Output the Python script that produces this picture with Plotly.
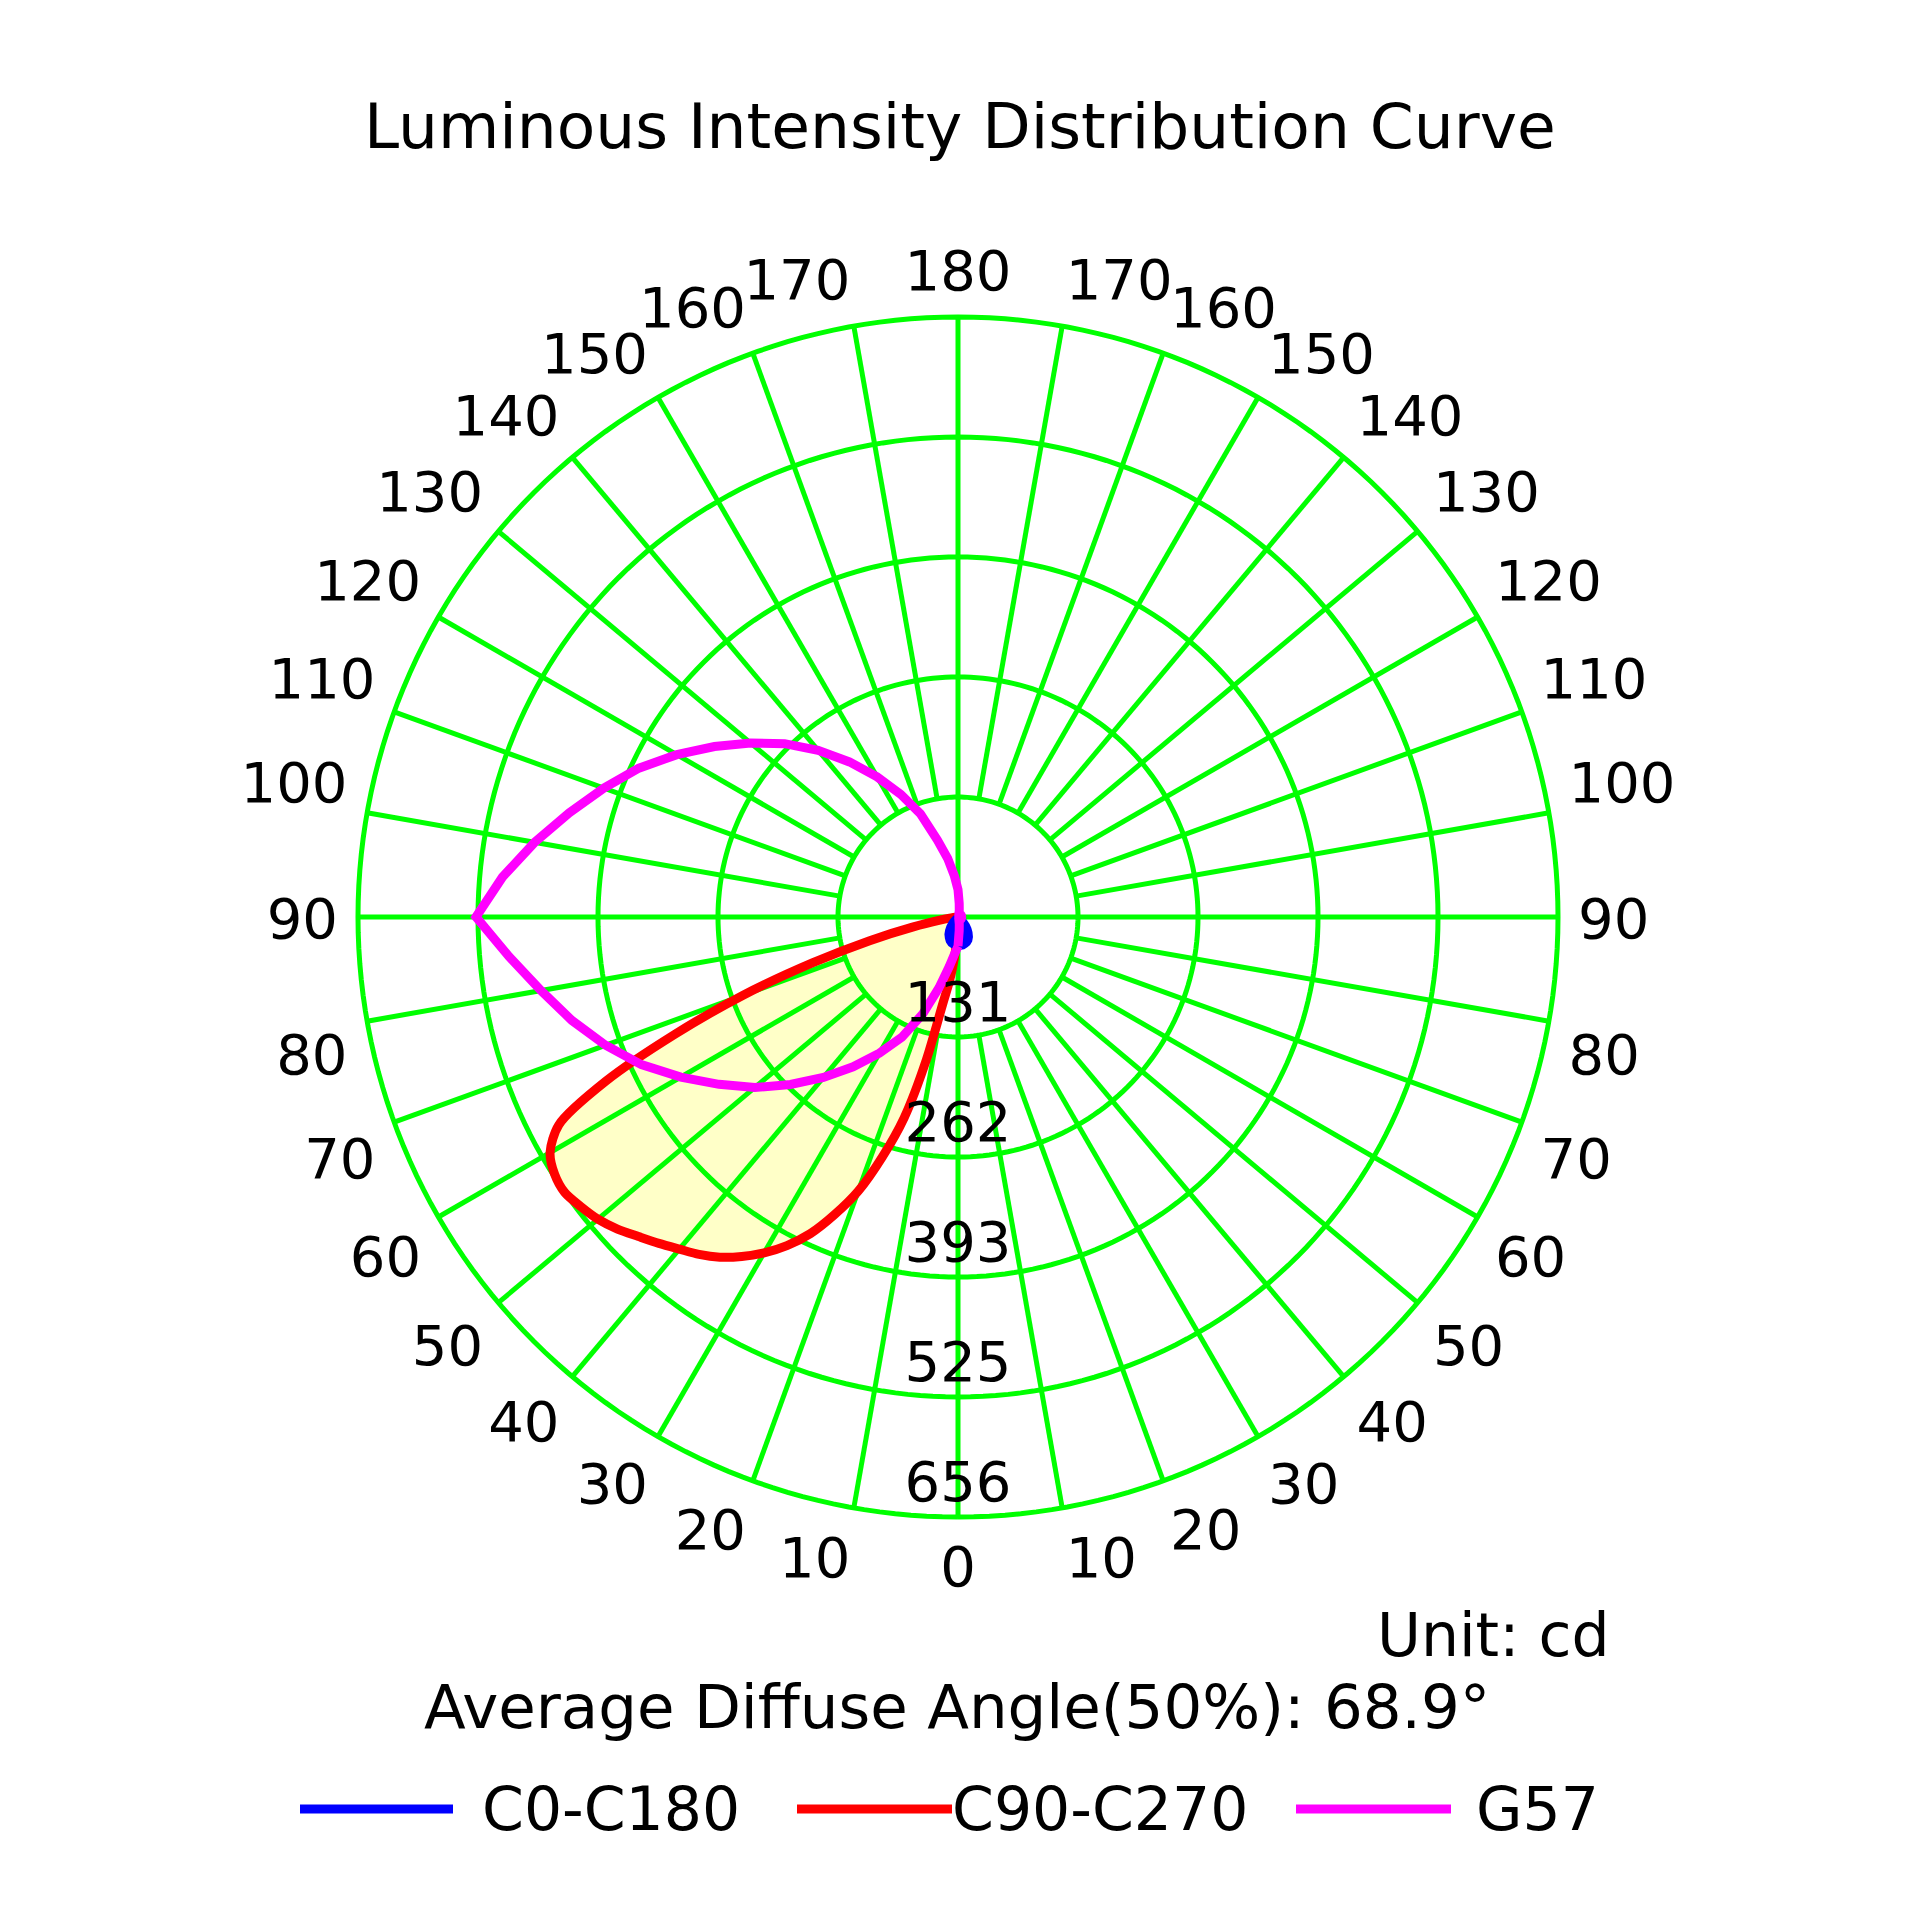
import math
import numpy as np
import plotly.graph_objects as go

# ---------------- data ----------------
TITLE = "Luminous Intensity Distribution Curve"
UNIT_TEXT = "Unit: cd"
ANGLE_TEXT = "Average Diffuse Angle(50%): 68.9°"
SERIES_NAMES = ["C0-C180", "C90-C270", "G57"]
SERIES_COLORS = ["#0000FF", "#FF0000", "#FF00FF"]

R_MAX = 656
RADIAL_TICKS = [131, 262, 393, 525, 656]
ANGLE_TICKS = list(range(0, 360, 10))
ANGLE_LABELS = [str(a if a <= 180 else 360 - a) for a in ANGLE_TICKS]

# C90-C270 plane (gamma in degrees, intensity in cd)
GAMMA_RED = [0, 2.5, 5, 7.5, 10, 12.5, 15, 17.5, 20, 22.5, 25, 27.5, 30, 32.5,
             35, 37.5, 40, 42.5, 45, 47.5, 50, 52.5, 55, 57.5, 60, 62.5, 65,
             67.5, 70, 72.5, 75, 77.5, 80, 85, 90, 100, 120, 140, 160, 180]
C90 = [3, 20, 45, 70, 97, 160, 227, 275, 319, 352, 382, 405, 424, 440,
       454, 465, 474, 484, 494, 505, 514, 520, 525, 523, 515, 492, 425,
       335, 250, 167, 100, 50, 20, 5, 0, 0, 0, 0, 0, 0]
C270 = [3, 2, 1, 0, 0, 0, 0, 0, 0, 0, 0, 0, 0, 0,
        0, 0, 0, 0, 0, 0, 0, 0, 0, 0, 0, 0, 0,
        0, 0, 0, 0, 0, 0, 0, 0, 0, 0, 0, 0, 0]

# C0-C180 plane and G57 cone (gamma in 5 degree steps)
GAMMA = list(range(0, 185, 5))
C0 = [32, 32, 31, 30, 28, 25, 22, 18, 14, 10, 7, 4, 2, 1, 0, 0, 0, 0, 0,
      0, 0, 0, 0, 0, 0, 0, 0, 0, 0, 0, 0, 0, 0, 0, 0, 0, 0]
C180 = [32, 32, 32, 31, 30, 28, 25, 21, 17, 13, 9, 6, 3, 1, 0, 0, 0, 0, 0,
        0, 0, 0, 0, 0, 0, 0, 0, 0, 0, 0, 0, 0, 0, 0, 0, 0, 0]
G57_LEFT = [32, 40, 55, 80, 113, 145, 172, 200, 229, 259, 290, 319, 350, 382,
            410, 437, 463, 493, 527, 500, 470, 440, 412, 385, 355, 325, 296,
            268, 238, 207, 177, 148, 120, 87, 65, 45, 30]
G57_RIGHT = [32, 15, 8, 4, 4, 4, 4, 4, 4, 4, 4, 4, 4, 4, 4, 4, 4, 4, 4,
             4, 4, 4, 4, 4, 4, 4, 4, 4, 4, 4, 4, 4, 4, 4, 8, 15, 30]

# ---------------- geometry helpers ----------------
W = H = 1920
CX, CY = 958, 917          # centre of the diagram in pixels (from top)
R_PX = 600                 # pixel radius of the outer circle
R_DOMAIN = 650             # pixel radius of the polar domain (room for labels)
RANGE_MAX = R_MAX * R_DOMAIN / R_PX
CD_PER_PX = R_MAX / R_PX
GREEN = "#00FF00"
GRID_W = 5
CURVE_W = 9


def closed(gamma, left, right):
    theta = list(gamma) + [360 - g for g in reversed(gamma)]
    r = list(left) + list(reversed(right))
    return theta, r


fig = go.Figure()

# yellow fill of C90-C270
th_red, r_red = closed(GAMMA_RED, C90, C270)
fig.add_trace(go.Scatterpolar(theta=th_red, r=r_red, mode="lines", fill="toself",
                              fillcolor="#FFFFC8",
                              line=dict(color="rgba(0,0,0,0)", width=0, shape="spline",
                                        smoothing=0.8),
                              hoverinfo="skip", showlegend=False))

# grid circles
step = R_MAX / 5
circ_t, circ_r = [], []
for k in range(1, 6):
    tt = np.linspace(0, 360, 241).tolist()
    circ_t += tt + [None]
    circ_r += [k * step] * len(tt) + [None]
fig.add_trace(go.Scatterpolar(theta=circ_t, r=circ_r, mode="lines",
                              line=dict(color=GREEN, width=GRID_W),
                              hoverinfo="skip", showlegend=False))

# spokes
sp_t, sp_r = [], []
for a in ANGLE_TICKS:
    r0 = 0 if a % 90 == 0 else step
    sp_t += [a, a, None]
    sp_r += [r0, R_MAX, None]
fig.add_trace(go.Scatterpolar(theta=sp_t, r=sp_r, mode="lines",
                              line=dict(color=GREEN, width=GRID_W),
                              hoverinfo="skip", showlegend=False))

# curves
th_b, r_b = closed(GAMMA, C0, C180)
th_m, r_m = closed(GAMMA, G57_LEFT, G57_RIGHT)
fig.add_trace(go.Scatterpolar(theta=th_red, r=r_red, mode="lines", name=SERIES_NAMES[1],
                              line=dict(color=SERIES_COLORS[1], width=CURVE_W,
                                        shape="spline", smoothing=0.8),
                              showlegend=False))
fig.add_trace(go.Scatterpolar(theta=th_b, r=r_b, mode="lines", name=SERIES_NAMES[0],
                              fill="toself", fillcolor=SERIES_COLORS[0],
                              line=dict(color=SERIES_COLORS[0], width=CURVE_W - 2),
                              showlegend=False))
fig.add_trace(go.Scatterpolar(theta=th_m, r=r_m, mode="lines", name=SERIES_NAMES[2],
                              line=dict(color=SERIES_COLORS[2], width=CURVE_W),
                              showlegend=False))

# radial labels (just inside each circle, on the 0 degree line)
fig.add_trace(go.Scatterpolar(theta=[0] * len(RADIAL_TICKS),
                              r=[k * step - 30 * CD_PER_PX for k in range(1, 6)],
                              text=[str(v) for v in RADIAL_TICKS], mode="text",
                              textposition="middle center",
                              textfont=dict(family="DejaVu Sans", size=56, color="black"),
                              hoverinfo="skip", showlegend=False))

# angle labels: anchored by quadrant, 620 px from the centre, nudged down
pos, lab_t, lab_r = [], [], []
for a in ANGLE_TICKS:
    if a in (90, 270):
        v = "middle"
    elif a < 90 or a > 270:
        v = "bottom"
    else:
        v = "top"
    if a in (0, 180):
        h = "center"
    elif a < 180:
        h = "left"
    else:
        h = "right"
    pos.append(v + " " + h)
    rad = math.radians(a)
    dx = -620 * math.sin(rad)
    dy = 620 * math.cos(rad) + 7
    lab_r.append(math.hypot(dx, dy) * CD_PER_PX)
    lab_t.append(math.degrees(math.atan2(-dx, dy)) % 360)
fig.add_trace(go.Scatterpolar(theta=lab_t, r=lab_r,
                              text=ANGLE_LABELS, mode="text", textposition=pos,
                              textfont=dict(family="DejaVu Sans", size=56, color="black"),
                              hoverinfo="skip", showlegend=False))

fig.update_layout(
    width=W, height=H, margin=dict(l=0, r=0, t=0, b=0),
    paper_bgcolor="white", plot_bgcolor="white",
    font=dict(family="DejaVu Sans", color="black"),
    showlegend=False,
    polar=dict(
        domain=dict(x=[(CX - R_DOMAIN) / W, (CX + R_DOMAIN) / W],
                    y=[(H - CY - R_DOMAIN) / H, (H - CY + R_DOMAIN) / H]),
        bgcolor="white",
        radialaxis=dict(range=[0, RANGE_MAX], showgrid=False, showline=False,
                        showticklabels=False, ticks=""),
        angularaxis=dict(rotation=-90, direction="clockwise", showgrid=False,
                         showline=False, showticklabels=False, ticks=""),
    ),
)


def px_x(x):
    return x / W


def px_y(y):
    return 1 - y / H


ann = [
    dict(text=TITLE, x=px_x(960), y=px_y(126), xanchor="center", yanchor="middle",
         font=dict(size=63)),
    dict(text=UNIT_TEXT, x=px_x(1612), y=px_y(1635), xanchor="right", yanchor="middle",
         font=dict(size=60)),
    dict(text=ANGLE_TEXT, x=px_x(957), y=px_y(1706), xanchor="center", yanchor="middle",
         font=dict(size=61)),
]
leg_y = 1809
leg_lines = [(300, 453, 480), (797, 952, 950), (1296, 1451, 1474)]
shapes = []
for (x0, x1, xt), name, col in zip(leg_lines, SERIES_NAMES, SERIES_COLORS):
    shapes.append(dict(type="line", xref="paper", yref="paper", x0=px_x(x0), x1=px_x(x1),
                       y0=px_y(leg_y), y1=px_y(leg_y), line=dict(color=col, width=9)))
    ann.append(dict(text=name, x=px_x(xt), y=px_y(leg_y), xanchor="left", yanchor="middle",
                    font=dict(size=60)))
for a in ann:
    a.update(xref="paper", yref="paper", showarrow=False)
fig.update_layout(annotations=ann, shapes=shapes)

fig.write_html("out.html")
